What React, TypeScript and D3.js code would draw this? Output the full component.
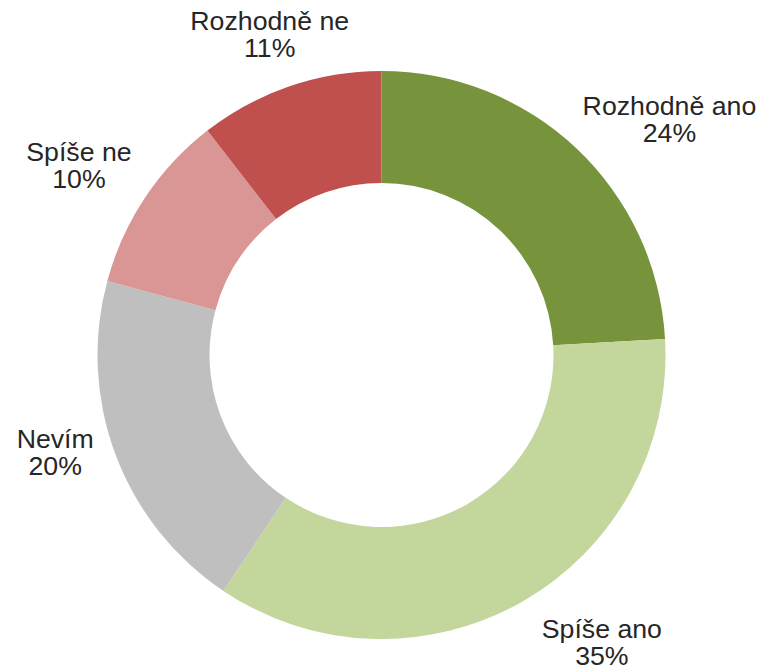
import React, { useEffect, useRef } from 'react';
import * as d3 from 'd3';

const categories = ['Rozhodně ano', 'Spíše ano', 'Nevím', 'Spíše ne', 'Rozhodně ne'];
const values = [24.1, 35.3, 19.8, 10.3, 10.5];
const colors = ['#77933C', '#C3D69B', '#BFBFBF', '#D99694', '#C0504D'];

// layout only: small manual nudges of the outside labels (px), like dragged Excel labels
const labelNudge: [number, number][] = [
  [14, 7],
  [36, 0],
  [2, -21],
  [1, -4],
  [15, -4],
];

const W = 762;
const H = 668;
const CX = 381.5;
const CY = 355;
const R = 284;
const R_IN = 172;
const FS = 26.7;
const LH = 27;
const GAP = 28;

export default function App() {
  const ref = useRef<SVGSVGElement>(null);
  useEffect(() => {
    const svg = d3.select(ref.current);
    svg.selectAll('*').remove();
    const g = svg.append('g').attr('transform', `translate(${CX},${CY})`);
    const pie = d3.pie<number>().sort(null).value((d) => d);
    const arcs = pie(values);
    const arc = d3.arc<d3.PieArcDatum<number>>().innerRadius(R_IN).outerRadius(R);
    g.selectAll('path')
      .data(arcs)
      .join('path')
      .attr('d', arc as any)
      .attr('fill', (_d, i) => colors[i]);
    const total = d3.sum(values);
    arcs.forEach((a, i) => {
      const t = g
        .append('text')
        .attr('font-family', '"Liberation Sans", Arial, Helvetica, sans-serif')
        .attr('font-size', FS)
        .attr('fill', '#262626')
        .attr('text-anchor', 'middle');
      t.append('tspan').attr('x', 0).attr('y', 0).text(categories[i]);
      t.append('tspan').attr('x', 0).attr('dy', LH).text(`${Math.round((values[i] / total) * 100)}%`);
      const bb = (t.node() as SVGTextElement).getBBox();
      const w = bb.width;
      const top = -0.72 * FS;
      const bottom = LH;
      const h = bottom - top;
      const mid = (a.startAngle + a.endAngle) / 2;
      const ux = Math.sin(mid);
      const uy = -Math.cos(mid);
      const cx = ux * (R + GAP) + (ux * w) / 2;
      let cy = uy * (R + GAP) + (uy * h) / 2;
      const maxCy = H - CY - 3 - h / 2;
      const minCy = -CY + 3 + h / 2;
      cy = Math.max(minCy, Math.min(maxCy, cy));
      const tx = cx + labelNudge[i][0];
      const ty = cy - (top + bottom) / 2 + labelNudge[i][1];
      t.attr('transform', `translate(${tx},${ty})`);
    });
  }, []);
  return (
    <svg
      ref={ref}
      width={W}
      height={H}
      style={{ position: 'fixed', left: 0, top: 0, background: '#fff' }}
    />
  );
}
